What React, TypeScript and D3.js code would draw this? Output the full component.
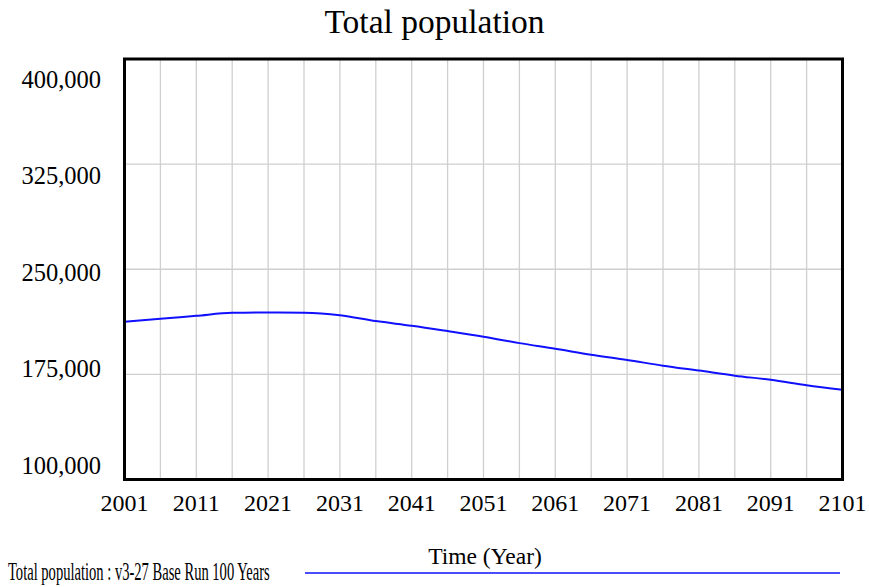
import React from "react";
import * as d3 from "d3";

const years = [2001, 2006, 2011, 2016, 2021, 2026, 2031, 2036, 2041, 2046, 2051, 2056, 2061, 2066, 2071, 2076, 2081, 2086, 2091, 2096, 2101];
const population = [212500, 214700, 216800, 218900, 219200, 219000, 217200, 213000, 209700, 205900, 201900, 197300, 193300, 189000, 185300, 181200, 177700, 174100, 171100, 167300, 164000];
const xTicks = [2001, 2011, 2021, 2031, 2041, 2051, 2061, 2071, 2081, 2091, 2101];
const xGrid = d3.range(2001, 2102, 5);
const yTicks = [100000, 175000, 250000, 325000, 400000];

const W = 869;
const H = 587;
const left = 124.5;
const right = 842.5;
const top = 59;
const bottom = 479.5;
const font = "'Liberation Serif', 'Times New Roman', serif";

export default function App() {
  const x = d3.scaleLinear().domain([2001, 2101]).range([left, right]);
  const y = d3.scaleLinear().domain([100000, 400000]).range([bottom, top]);
  const labelY = d3.scaleLinear().domain([400000, 100000]).range([top + 29, bottom - 6]);
  const line = d3
    .line<number>()
    .x((_, i) => x(years[i]))
    .y((d) => y(d))
    .curve(d3.curveMonotoneX);
  const fmt = d3.format(",");
  return (
    <svg width={W} height={H} style={{ position: "absolute", left: 0, top: 0, background: "#fff" }}>
      <rect x={0} y={0} width={W} height={H} fill="#fff" />
      <text x={W / 2} y={33} textAnchor="middle" fontFamily={font} fontSize={33.5} fill="#000">
        Total population
      </text>
      {xGrid.map((v) => (
        <line key={"gx" + v} x1={x(v)} x2={x(v)} y1={top} y2={bottom} stroke="#cfcfcf" strokeWidth={1.3} />
      ))}
      {yTicks.map((v) => (
        <line key={"gy" + v} x1={left} x2={right} y1={y(v)} y2={y(v)} stroke="#cfcfcf" strokeWidth={1.3} />
      ))}
      <path d={line(population) || ""} fill="none" stroke="#1010ff" strokeWidth={2} />
      <rect x={left} y={top} width={right - left} height={bottom - top} fill="none" stroke="#000" strokeWidth={3} />
      {yTicks.map((v) => (
        <text key={"yl" + v} x={101} y={labelY(v)} textAnchor="end" fontFamily={font} fontSize={24.5} fill="#000">
          {fmt(v)}
        </text>
      ))}
      {xTicks.map((v) => (
        <text key={"xl" + v} x={x(v)} y={511} textAnchor="middle" fontFamily={font} fontSize={24} fill="#000">
          {v}
        </text>
      ))}
      <text x={485} y={564} textAnchor="middle" fontFamily={font} fontSize={23.5} fill="#000">
        Time (Year)
      </text>
      <text transform="translate(8,580) scale(0.56,1)" fontFamily={font} fontSize={26} fill="#000">
        Total population : v3-27 Base Run 100 Years
      </text>
      <line x1={305} x2={840} y1={573} y2={573} stroke="#1010ff" strokeWidth={1.6} />
    </svg>
  );
}
